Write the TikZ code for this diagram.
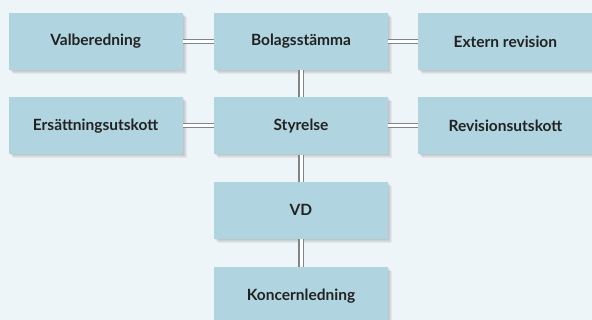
\documentclass[tikz,border=0pt]{standalone}
\usepackage{fontspec}
\setmainfont{Lato}
\usetikzlibrary{positioning}

\definecolor{bgblue}{HTML}{EEF5F9}
\definecolor{boxblue}{HTML}{B0D4E0}
\definecolor{linkgray}{HTML}{7E868C}
\definecolor{textdark}{HTML}{222222}

\tikzset{
  softshade/.style={preaction={fill=black, opacity=0.05,
    transform canvas={xshift=#1, yshift=-#1}}},
  orgbox/.style={fill=boxblue, minimum width=174pt, minimum height=57pt,
    inner sep=0pt, font=\fontsize{15.5}{18}\selectfont\bfseries, text=textdark,
    softshade=4pt, softshade=3pt, softshade=2pt, softshade=1pt},
  link/.style={draw=linkgray, line width=1.1pt, double=white, double distance=3pt}
}

\begin{document}
\begin{tikzpicture}[x=1pt, y=1pt, node distance=27pt and 30pt]
\fill[bgblue] (0,0) rectangle (592,-320);
\useasboundingbox (0,0) rectangle (592,-320);
\begin{scope}
\clip (0,0) rectangle (592,-320);
% top row
\node[orgbox] (stamma) at (301,-41.5) {Bolagsstämma};
\node[orgbox, left=31pt of stamma] (valb) {Valberedning};
\node[orgbox, right=30pt of stamma] (revision) {Extern revision};
% board row
\node[orgbox, below=27pt of stamma] (styrelse) {Styrelse};
\node[orgbox, left=31pt of styrelse] (ersatt) {Ersättningsutskott};
\node[orgbox, right=30pt of styrelse] (revutskott) {Revisionsutskott};
% management
\node[orgbox, below=27pt of styrelse] (vd) {VD};
\node[orgbox, below=28pt of vd] (koncern) {Koncernledning};
% links
\draw[link] (valb) -- (stamma);
\draw[link] (stamma) -- (revision);
\draw[link] (ersatt) -- (styrelse);
\draw[link] (styrelse) -- (revutskott);
\draw[link] (stamma) -- (styrelse);
\draw[link] (styrelse) -- (vd);
\draw[link] (vd) -- (koncern);
\end{scope}
\end{tikzpicture}
\end{document}
